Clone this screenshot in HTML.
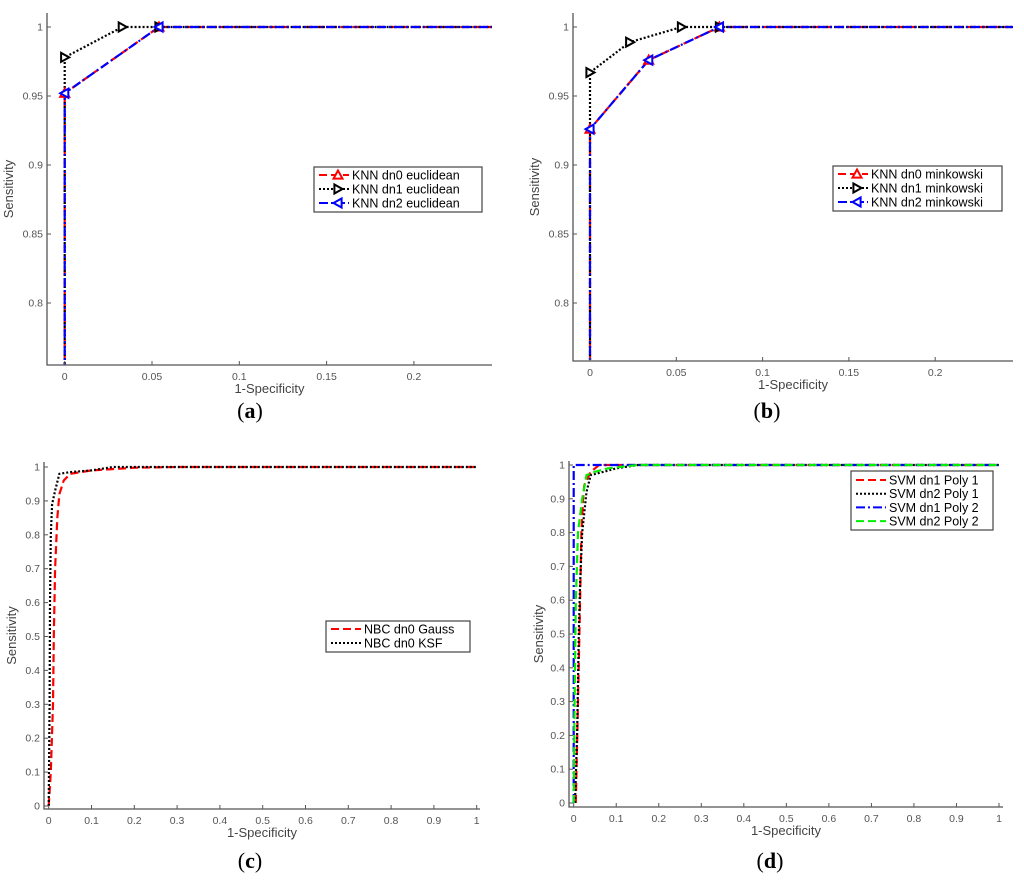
<!DOCTYPE html>
<html><head><meta charset="utf-8">
<style>
html,body{margin:0;padding:0;background:#fff;}
svg{display:block;font-family:"Liberation Sans",sans-serif;}
</style></head>
<body>
<svg id="fig" width="1024" height="880" viewBox="0 0 1024 880" xmlns="http://www.w3.org/2000/svg"></svg>
<script>
// ---- Panel (a) data ----
const aXTicks=[0,0.05,0.1,0.15,0.2];
const aYTicks=[0.8,0.85,0.9,0.95,1];
const aYTickLabels=["0.8","0.85","0.9","0.95","1"];
const aDn0X=[0,0,0.054,0.25];
const aDn0Y=[0.75,0.952,1,1];
const aDn1X=[0,0,0.033,0.054,0.25];
const aDn1Y=[0.75,0.978,1,1,1];
const aDn2X=[0,0,0.054,0.25];
const aDn2Y=[0.75,0.952,1,1];
// ---- Panel (b) data ----
const bXTicks=[0,0.05,0.1,0.15,0.2];
const bYTicks=[0.8,0.85,0.9,0.95,1];
const bYTickLabels=["0.8","0.85","0.9","0.95","1"];
const bDn0X=[0,0,0.034,0.075,0.25];
const bDn0Y=[0.75,0.926,0.976,1,1];
const bDn1X=[0,0,0.023,0.053,0.075,0.25];
const bDn1Y=[0.75,0.967,0.989,1,1,1];
const bDn2X=[0,0,0.034,0.075,0.25];
const bDn2Y=[0.75,0.926,0.976,1,1];
// ---- Panel (c) data ----
const cTicks=[0,0.1,0.2,0.3,0.4,0.5,0.6,0.7,0.8,0.9,1];
const cGaussX=[0,0.005,0.01,0.012,0.015,0.02,0.025,0.035,0.05,0.1,0.2,0.3,1];
const cGaussY=[0,0.1,0.3,0.5,0.7,0.85,0.92,0.96,0.98,0.99,0.998,1,1];
const cKsfX=[0,0.002,0.003,0.005,0.008,0.015,0.025,0.05,0.1,0.15,1];
const cKsfY=[0,0.3,0.6,0.8,0.89,0.93,0.98,0.985,0.99,1,1];
// ---- Panel (d) data ----
const dTicks=[0,0.1,0.2,0.3,0.4,0.5,0.6,0.7,0.8,0.9,1];
const dP1dn1X=[0.005,0.01,0.015,0.018,0.022,0.025,0.04,0.06,1];
const dP1dn1Y=[0,0.3,0.6,0.8,0.9,0.94,0.98,1,1];
const dP1dn2X=[0.003,0.008,0.012,0.015,0.02,0.03,0.04,0.07,0.1,0.15,1];
const dP1dn2Y=[0,0.2,0.5,0.65,0.8,0.92,0.97,0.98,0.99,1,1];
const dP2dn1X=[0,0,1];
const dP2dn1Y=[0,1,1];
const dP2dn2X=[0,0.002,0.005,0.01,0.02,0.03,0.05,0.08,0.15,1];
const dP2dn2Y=[0,0.3,0.6,0.8,0.9,0.97,0.98,0.99,1,1];

const NS="http://www.w3.org/2000/svg";
const svg=document.getElementById('fig');
function mk(tag,attrs,parent){const e=document.createElementNS(NS,tag);for(const k in attrs)e.setAttribute(k,attrs[k]);(parent||svg).appendChild(e);return e;}

const DASH={red:"8,4",black:"2,2",blue:"9,3,2,3",green:"8,4"};
const COL={red:"#ff0000",black:"#000",blue:"#0000ff",green:"#00ee00"};

function panel(p){
  const g=mk('g',{});
  
  
  const sx=v=>p.x0px+(v-p.x0)*(p.x1px-p.x0px)/(p.x1-p.x0);
  const sy=v=>p.y0px+(v-p.y0)*(p.y1px-p.y0px)/(p.y1-p.y0);
  const clip='clip-'+p.id;
  const cp=mk('clipPath',{id:clip},g);
  mk('rect',{x:p.L,y:p.T,width:p.R-p.L,height:p.B-p.T},cp);
  p.series.forEach(s=>{
    const pts=s.xs.map((v,i)=>sx(v).toFixed(1)+","+sy(s.ys[i]).toFixed(1)).join(" ");
    const pl=mk('polyline',{points:pts,fill:"none",stroke:COL[s.c],'stroke-width':2.2,'stroke-dasharray':DASH[s.c],'clip-path':'url(#'+clip+')'},g);
    
    
  });
  p.series.forEach(s=>{
    if(s.m){s.xs.forEach((v,i)=>{const px=sx(v),py=sy(s.ys[i]);if(py>p.B-5||px>p.R-10)return;drawMarker(g,s.m,px,py,COL[s.c]);});}
  });
  const ax=mk('path',{d:`M${p.L},${p.T}V${p.B}H${p.R}`,fill:"none",stroke:"#555",'stroke-width':1.3},g);
  
  
  p.xt.forEach(v=>{
    mk('line',{x1:sx(v),x2:sx(v),y1:p.B,y2:p.B-4,stroke:"#555"},g);
    const t=mk('text',{x:sx(v),y:p.B+15,'font-size':10.5,fill:"#555",'text-anchor':"middle"},g);t.textContent=String(v);
    
    
  });
  p.yt.forEach((v,i)=>{
    mk('line',{x1:p.L,x2:p.L+4,y1:sy(v),y2:sy(v),stroke:"#555"},g);
    const t=mk('text',{x:p.L-4,y:sy(v)+3.5,'font-size':10.5,fill:"#555",'text-anchor':"end"},g);t.textContent=p.ytl?p.ytl[i]:String(v);
    
    
  });
  const xl=mk('text',{x:(p.L+p.R)/2,y:p.B+28,'font-size':13,fill:"#444",'text-anchor':"middle"},g);xl.textContent="1-Specificity";
  
  
  const yx=p.L-p.ylOff, yy=(p.T+p.B)/2;
  const yl=mk('text',{x:yx,y:yy,'font-size':13,fill:"#444",'text-anchor':"middle",transform:`rotate(-90 ${yx} ${yy})`},g);yl.textContent="Sensitivity";
  
  
  const cap=mk('text',{x:p.capX,y:p.capY,'font-size':22,'font-family':'"Liberation Serif",serif',fill:"#000",'text-anchor':"middle"},g);
  cap.innerHTML='(<tspan font-weight="bold">'+p.cap+'</tspan>)';
  
  
  const lg=mk('g',{},g);
  
  
  mk('rect',{x:p.lg[0],y:p.lg[1],width:p.lg[2],height:p.lg[3],fill:"#fff",stroke:"#444",'stroke-width':1.2},lg);
  p.series.filter(s=>s.lab).forEach((s,i)=>{
    const y=p.lg[1]+p.lgPad+i*p.lgStep;
    const x=p.lg[0]+5;
    mk('line',{x1:x,x2:x+p.lgLine,y1:y,y2:y,stroke:COL[s.c],'stroke-width':2,'stroke-dasharray':DASH[s.c]},lg);
    if(s.m)drawMarker(lg,s.m,x+p.lgLine/2+4,y,COL[s.c]);
    const t=mk('text',{x:x+p.lgLine+3,y:y+4.5,'font-size':p.lgFont,fill:"#000"},lg);t.textContent=s.lab;
    
    
  });
}
function drawMarker(g,m,x,y,c){
  const r=4.5;let pts;
  if(m==='up')pts=[[x,y-r],[x-r,y+r*0.8],[x+r,y+r*0.8]];
  else if(m==='right')pts=[[x+r,y],[x-r*0.8,y-r],[x-r*0.8,y+r]];
  else pts=[[x-r,y],[x+r*0.8,y-r],[x+r*0.8,y+r]];
  mk('polygon',{points:pts.map(q=>q.join(",")).join(" "),fill:"#fff",stroke:c,'stroke-width':2},g);
}

panel({id:'a',name:'panel-a',L:47,T:13,R:492,B:365,x0:0,x1:0.05,x0px:64.7,x1px:152,y0:1,y1:0.95,y0px:27,y1px:96,
  xt:aXTicks,yt:aYTicks,ytl:aYTickLabels,ylOff:34,cap:'a',capX:250,capY:418,
  lg:[314,167,168,45],lgPad:8,lgStep:14,lgLine:30,lgFont:12.5,
  series:[{xs:aDn0X,ys:aDn0Y,c:'red',m:'up',n:'line-knn-dn0',lab:'KNN dn0 euclidean'},
          {xs:aDn1X,ys:aDn1Y,c:'black',m:'right',n:'line-knn-dn1',lab:'KNN dn1 euclidean'},
          {xs:aDn2X,ys:aDn2Y,c:'blue',m:'left',n:'line-knn-dn2',lab:'KNN dn2 euclidean'}]});
panel({id:'b',name:'panel-b',L:573,T:13,R:1013,B:361,x0:0,x1:0.05,x0px:590,x1px:676.3,y0:1,y1:0.95,y0px:27,y1px:96,
  xt:bXTicks,yt:bYTicks,ytl:bYTickLabels,ylOff:34,cap:'b',capX:767,capY:418,
  lg:[833,166,169,45],lgPad:8,lgStep:14,lgLine:30,lgFont:12.5,
  series:[{xs:bDn0X,ys:bDn0Y,c:'red',m:'up',n:'line-knn-dn0',lab:'KNN dn0 minkowski'},
          {xs:bDn1X,ys:bDn1Y,c:'black',m:'right',n:'line-knn-dn1',lab:'KNN dn1 minkowski'},
          {xs:bDn2X,ys:bDn2Y,c:'blue',m:'left',n:'line-knn-dn2',lab:'KNN dn2 minkowski'}]});
panel({id:'c',name:'panel-c',L:44,T:462,R:480,B:809,x0:0,x1:1,x0px:48.7,x1px:476.7,y0:0,y1:1,y0px:806,y1px:467,
  xt:cTicks,yt:cTicks,ylOff:28,cap:'c',capX:250,capY:868,
  lg:[326,621,144,31],lgPad:8,lgStep:14,lgLine:30,lgFont:12.5,
  series:[{xs:cGaussX,ys:cGaussY,c:'red',n:'line-nbc-gauss',lab:'NBC dn0 Gauss'},
          {xs:cKsfX,ys:cKsfY,c:'black',n:'line-nbc-ksf',lab:'NBC dn0 KSF'}]});
panel({id:'d',name:'panel-d',L:569,T:461,R:1003,B:807,x0:0,x1:1,x0px:573.7,x1px:999,y0:0,y1:1,y0px:803,y1px:465,
  xt:dTicks,yt:dTicks,ylOff:26,cap:'d',capX:770,capY:868,
  lg:[851,471,142,59],lgPad:9,lgStep:13.7,lgLine:30,lgFont:12.5,
  series:[{xs:dP1dn1X,ys:dP1dn1Y,c:'red',n:'line-svm-dn1-poly1',lab:'SVM dn1 Poly 1'},
          {xs:dP1dn2X,ys:dP1dn2Y,c:'black',n:'line-svm-dn2-poly1',lab:'SVM dn2 Poly 1'},
          {xs:dP2dn1X,ys:dP2dn1Y,c:'blue',n:'line-svm-dn1-poly2',lab:'SVM dn1 Poly 2'},
          {xs:dP2dn2X,ys:dP2dn2Y,c:'green',n:'line-svm-dn2-poly2',lab:'SVM dn2 Poly 2'}]});
</script>
</body></html>
